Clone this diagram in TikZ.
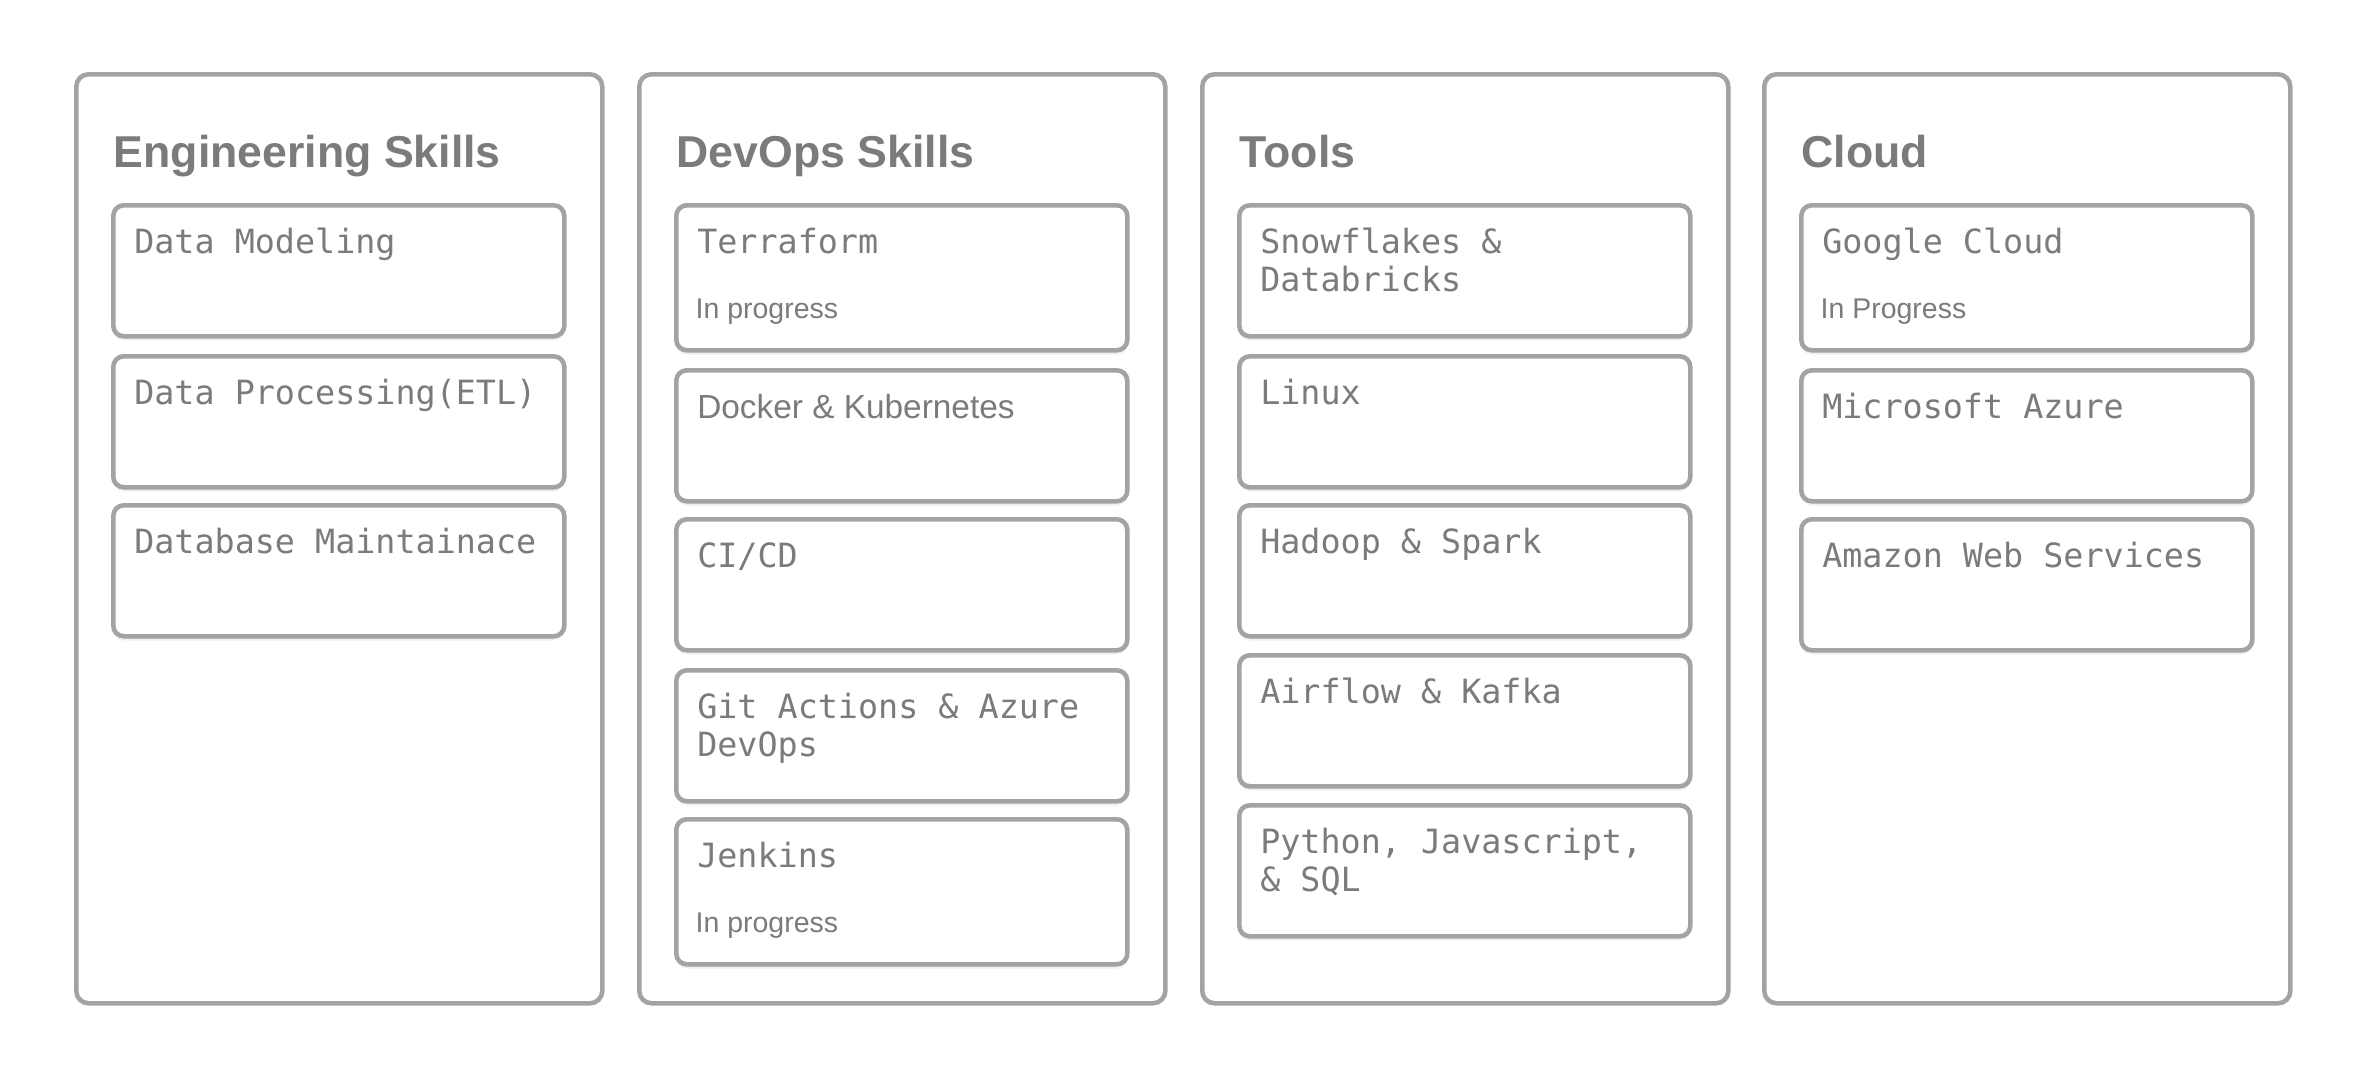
\documentclass[tikz,border=0pt]{standalone}
\usepackage{fontspec}
\setmainfont{Liberation Sans}
\setmonofont{DejaVu Sans Mono}
\usepackage{tikz}
\usetikzlibrary{shadows}
\usepackage{xcolor}
\definecolor{framegray}{HTML}{A3A3A3}
\definecolor{inkgray}{HTML}{7B7B7B}

\begin{document}
\begin{tikzpicture}[
	lane/.style={draw=framegray,line width=1.3pt,rounded corners=3.5pt,anchor=north west,minimum width=5.26cm,minimum height=9.29cm,inner sep=0pt},
	lanetitle/.style={anchor=base west,text=inkgray,font=\fontsize{12.7}{15}\selectfont\bfseries,inner sep=0pt},
	card/.style={draw=framegray,fill=white,line width=1.3pt,rounded corners=3pt,anchor=north west,minimum width=4.51cm,text width=4.09cm,align=left,inner xsep=0.21cm,inner ysep=0pt,text height=0.48cm,text depth=0.83cm,text=inkgray,font=\fontsize{9.5}{10.8}\selectfont\ttfamily,execute at begin node={\spaceskip=0pt\xspaceskip=0pt},drop shadow={opacity=0.12,shadow xshift=0pt,shadow yshift=-1.2pt}},
	tallcard/.style={card,text depth=0.97cm},
	status/.style={anchor=base west,text=inkgray,font=\fontsize{8.1}{10}\selectfont,inner sep=0pt}]
				\useasboundingbox (0,0) rectangle (23.63,-10.76);
				\node(eng) at (0.74,-0.72)[lane]{};
				\node(devops) at (6.37,-0.72)[lane]{};
				\node(tools) at (12.00,-0.72)[lane]{};
				\node(cloud) at (17.62,-0.72)[lane]{};
				\node(engtitle) at (1.13,-1.67)[lanetitle]{Engineering Skills};
				\node(devopstitle) at (6.76,-1.67)[lanetitle]{DevOps Skills};
				\node(toolstitle) at (12.39,-1.67)[lanetitle]{Tools};
				\node(cloudtitle) at (18.01,-1.67)[lanetitle]{Cloud};
%engineering
				\node(model) at (1.11,-2.03)[card]{Data Modeling};
				\node(etl) at (1.11,-3.54)[card]{Data Processing(ETL)};
				\node(dbmaint) at (1.11,-5.03)[card]{Database Maintainace};
%devops
				\node(terraform) at (6.74,-2.03)[tallcard]{Terraform};
				\node(docker) at (6.74,-3.68)[card]{\rmfamily Docker \& Kubernetes};
				\node(cicd) at (6.74,-5.17)[card]{CI/CD};
				\node(gitact) at (6.74,-6.68)[card]{Git Actions \& Azure\\DevOps};
				\node(jenkins) at (6.74,-8.17)[tallcard]{Jenkins};
				\node(terraformst) at (6.95,-3.18)[status]{In progress};
				\node(jenkinsst) at (6.95,-9.32)[status]{In progress};
%tools
				\node(snowdb) at (12.37,-2.03)[card]{Snowflakes \&\\Databricks};
				\node(linux) at (12.37,-3.54)[card]{Linux};
				\node(hadoop) at (12.37,-5.03)[card]{Hadoop \& Spark};
				\node(airflow) at (12.37,-6.53)[card]{Airflow \& Kafka};
				\node(langs) at (12.37,-8.03)[card]{Python, Javascript,\\\& SQL};
%cloud
				\node(gcloud) at (17.99,-2.03)[tallcard]{Google Cloud};
				\node(azure) at (17.99,-3.68)[card]{Microsoft Azure};
				\node(aws) at (17.99,-5.17)[card]{Amazon Web Services};
				\node(gcloudst) at (18.20,-3.18)[status]{In Progress};
			\end{tikzpicture}
\end{document}
